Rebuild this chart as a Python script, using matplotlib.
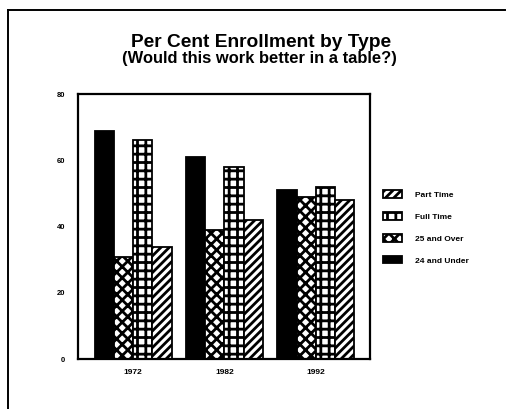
import matplotlib
matplotlib.use("Agg")
import matplotlib.pyplot as plt
from matplotlib.lines import Line2D
import numpy as np

years = ["1972", "1982", "1992"]
series_names = ["24 and Under", "25 and Over", "Full Time", "Part Time"]
under24 = [69, 61, 51]
over25 = [31, 39, 49]
full_time = [66, 58, 52]
part_time = [34, 42, 48]
y_ticks = [0, 20, 40, 60, 80]

plt.rcParams['font.family'] = ['Liberation Sans', 'DejaVu Sans']
plt.rcParams['font.weight'] = 'bold'
plt.rcParams['hatch.linewidth'] = 2.0
plt.rcParams['hatch.color'] = 'black'

fig = plt.figure(figsize=(5.11, 4.09), dpi=100)
ax = fig.add_axes([0.1526, 0.1215, 0.724 - 0.1526, 0.770 - 0.1215])

x = np.arange(len(years))
w = 0.21
values = [under24, over25, full_time, part_time]
styles = [dict(facecolor='black', hatch=None),
          dict(facecolor='white', hatch='xxx'),
          dict(facecolor='white', hatch='++'),
          dict(facecolor='white', hatch='////')]
offsets = [-1.5, -0.5, 0.5, 1.5]
for vals, st, off, name in zip(values, styles, offsets, series_names):
    ax.bar(x + off * w, vals, width=w, edgecolor='black', linewidth=1.3,
           label=name, **st)

ax.set_xlim(-0.604, 2.593)
ax.set_ylim(0, 80)
ax.set_yticks(y_ticks)
ax.set_yticklabels([str(t) for t in y_ticks], fontsize=5.5, fontweight='bold')
ax.set_xticks(x)
ax.set_xticklabels(years, fontsize=6, fontweight='bold')
ax.tick_params(axis='y', length=0, pad=9)
ax.tick_params(axis='x', length=0, pad=7)
for sp in ax.spines.values():
    sp.set_linewidth(1.6)

handles, labels = ax.get_legend_handles_labels()
leg = fig.legend(handles[::-1], labels[::-1], loc='upper left',
                 bbox_to_anchor=(0.742, 0.545), frameon=False,
                 fontsize=6, handlelength=2.2, handleheight=1.0,
                 labelspacing=1.6, handletextpad=1.6, borderpad=0)
for t in leg.get_texts():
    t.set_fontweight('bold')

fig.text(0.511, 0.897, "Per Cent Enrollment by Type", ha='center', va='center',
         fontsize=13.8, fontweight='bold')
fig.text(0.508, 0.858, "(Would this work better in a table?)", ha='center',
         va='center', fontsize=11.9, fontweight='bold')

# page frame
fig.add_artist(Line2D([8 / 511, 505 / 511], [1 - 9.5 / 409, 1 - 9.5 / 409],
                      transform=fig.transFigure, color='black', linewidth=1.4))
fig.add_artist(Line2D([8 / 511, 8 / 511], [0, 1 - 9.5 / 409],
                      transform=fig.transFigure, color='black', linewidth=1.4))

fig.savefig("out.png", dpi=100)
